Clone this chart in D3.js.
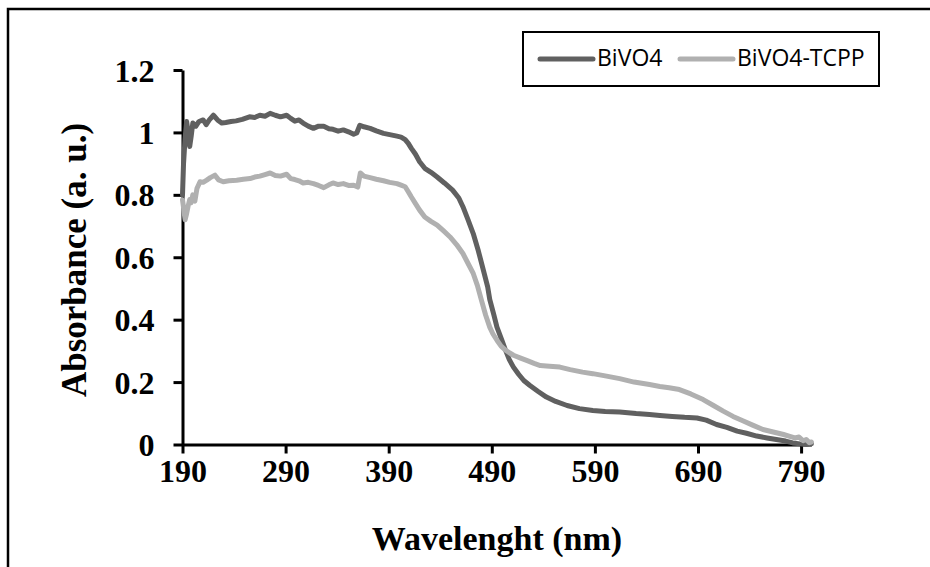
<!DOCTYPE html>
<html><head><meta charset="utf-8">
<script src="https://cdn.jsdelivr.net/npm/d3@7"></script>
<style>html,body{margin:0;padding:0;background:#fff;}svg{display:block;}</style>
</head><body>
<script>
const wlBiVO4 = [190,191,192.5,194,195.5,197,198.5,200,203,206,210,213,216,220,224,228,232,237,242,248,255,260,265,270,275,280,285,291,295,299,303,307,312,317,322,327,332,336,341,346,351,356,359,362,366,372,378,385,391,398,402,406,409,412,416,420,425,431,437,444,452,458,462,467,472,477,482,486,488,492,495,500,503,507,511,516,521,527,535,543,552,563,575,588,600,614,630,643,653,665,677,689,698,708,718,728,737,747,757,766,775,782,789,795,800];
const absBiVO4 = [0.80,0.90,0.98,1.035,1.00,0.955,0.99,1.03,1.02,1.035,1.04,1.025,1.04,1.055,1.04,1.03,1.032,1.035,1.037,1.042,1.05,1.048,1.055,1.052,1.061,1.055,1.05,1.055,1.045,1.036,1.04,1.03,1.02,1.013,1.02,1.02,1.012,1.01,1.004,1.008,1.002,0.994,0.998,1.023,1.018,1.013,1.005,0.997,0.993,0.988,0.985,0.977,0.965,0.949,0.93,0.906,0.885,0.872,0.857,0.838,0.815,0.79,0.762,0.72,0.676,0.62,0.556,0.505,0.465,0.415,0.376,0.332,0.305,0.272,0.248,0.225,0.205,0.189,0.17,0.152,0.138,0.125,0.115,0.109,0.106,0.104,0.099,0.096,0.093,0.09,0.087,0.085,0.078,0.064,0.055,0.043,0.036,0.027,0.021,0.016,0.011,0.005,0.002,0.0,0.002];
const wlTCPP = [190,191,192.5,194,195.5,197,198.5,200,202,204,207,210,213.5,217,221.5,225,229.5,235,242.5,249,255.5,260,265,270,275,280,285,291,295,299,303,307,312,317,322,327,332,336,341,346,351,356,360,362.5,366,372,378,385,391,398,402,406,409,412,416,420,425,431,437,443,449.5,456,462,467,472,476,480,484,488,491,495,499,503,507,511,518,525,531,537,546,556,566,578,588,600,614,628,643,653,662,672,683,695,705,714.5,724,734,743,753,763,773,779,784,788,792,795,798,800];
const absTCPP = [0.784,0.76,0.72,0.74,0.765,0.785,0.775,0.80,0.78,0.82,0.842,0.84,0.847,0.855,0.863,0.848,0.842,0.845,0.847,0.85,0.852,0.857,0.86,0.865,0.87,0.862,0.86,0.866,0.852,0.849,0.845,0.838,0.84,0.836,0.83,0.823,0.832,0.838,0.833,0.836,0.83,0.831,0.825,0.87,0.86,0.855,0.85,0.845,0.84,0.836,0.831,0.826,0.81,0.793,0.772,0.751,0.729,0.715,0.703,0.685,0.665,0.64,0.612,0.58,0.548,0.51,0.462,0.415,0.376,0.355,0.334,0.315,0.303,0.294,0.286,0.277,0.268,0.26,0.253,0.251,0.248,0.24,0.232,0.227,0.22,0.211,0.2,0.192,0.186,0.182,0.176,0.162,0.144,0.125,0.107,0.09,0.075,0.062,0.048,0.04,0.032,0.026,0.021,0.024,0.012,0.016,0.006,0.008];
const xTicks = [190,290,390,490,590,690,790];
const yTicks = [0,0.2,0.4,0.6,0.8,1,1.2];
const seriesNames = ["BiVO4","BiVO4-TCPP"];
const seriesColors = ["#606060","#b0b0b0"];

const W = 930, H = 567;
const svg = d3.select("body").append("svg").attr("width", W).attr("height", H);

// outer frame
svg.append("path").attr("d", "M8,567 L8,9 L930,9").attr("fill","none").attr("stroke","#000").attr("stroke-width",2.5);

const x = d3.scaleLinear().domain([190, 800]).range([182.5, 811.4]);
const y = d3.scaleLinear().domain([0, 1.2]).range([444.5, 70]);

const serif = "'Liberation Serif','Times New Roman',serif";

// axes
const xAxis = svg.append("g").attr("transform", `translate(0,${y(0)})`)
  .call(d3.axisBottom(x).tickValues(xTicks).tickSize(9).tickSizeOuter(0).tickFormat(d3.format("d")));
const yAxis = svg.append("g").attr("transform", `translate(${x(190)},0)`)
  .call(d3.axisLeft(y).tickValues(yTicks).tickSize(9).tickSizeOuter(0).tickFormat(d => d3.format("")(d)));
[xAxis, yAxis].forEach(g => {
  g.select(".domain").attr("stroke","#000").attr("stroke-width",3);
  g.selectAll(".tick line").attr("stroke","#000").attr("stroke-width",3);
  g.selectAll("text").attr("font-family", serif).attr("font-weight","bold").attr("font-size",32).attr("fill","#000");
});
xAxis.selectAll(".tick text").attr("dy", null).attr("y", 37);
yAxis.selectAll(".tick text").attr("dy", null).attr("x", -28).attr("y", 11);

// lines
const line = d3.line().x(d => x(d[0])).y(d => y(d[1])).curve(d3.curveLinear);
const dataA = wlBiVO4.map((w,i) => [w, absBiVO4[i]]);
const dataB = wlTCPP.map((w,i) => [w, absTCPP[i]]);
svg.append("path").datum(dataA).attr("d", line).attr("fill","none").attr("stroke",seriesColors[0]).attr("stroke-width",5).attr("stroke-linejoin","round").attr("stroke-linecap","round");
svg.append("path").datum(dataB).attr("d", line).attr("fill","none").attr("stroke",seriesColors[1]).attr("stroke-width",5).attr("stroke-linejoin","round").attr("stroke-linecap","round");

// axis titles
svg.append("text").attr("x", 497).attr("y", 550).attr("text-anchor","middle")
  .attr("font-family", serif).attr("font-weight","bold").attr("font-size",34).text("Wavelenght (nm)");
svg.append("text").attr("transform","translate(86,260) rotate(-90)").attr("text-anchor","middle")
  .attr("font-family", serif).attr("font-weight","bold").attr("font-size",35).text("Absorbance (a. u.)");

// legend
const lg = svg.append("g");
lg.append("rect").attr("x",523).attr("y",32).attr("width",356).attr("height",54).attr("fill","#fff").attr("stroke","#000").attr("stroke-width",2);
const legX = [540, 680];
seriesNames.forEach((n,i) => {
  lg.append("line").attr("x1",legX[i]).attr("x2",legX[i]+53).attr("y1",59).attr("y2",59)
    .attr("stroke",seriesColors[i]).attr("stroke-width",5).attr("stroke-linecap","round");
  lg.append("text").attr("x",legX[i]+57).attr("y",65.5).attr("font-family","'Open Sans',sans-serif").attr("font-size",23).attr("fill","#000").text(n);
});
</script>
</body></html>
